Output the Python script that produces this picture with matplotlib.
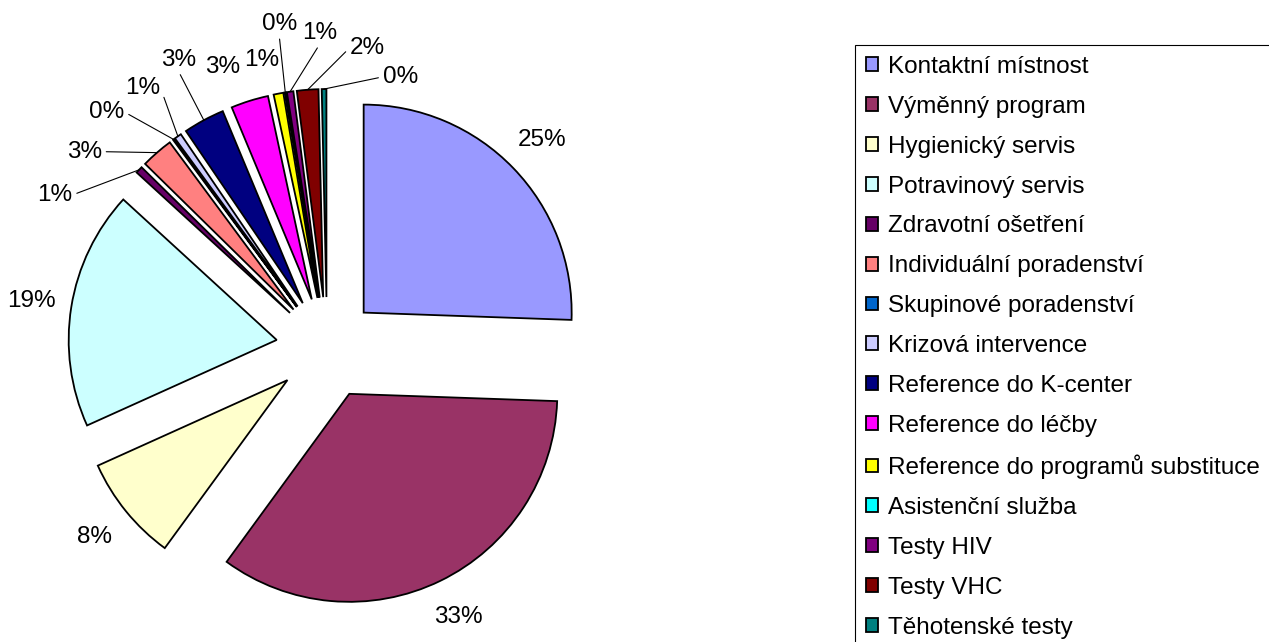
import numpy as np
import matplotlib
matplotlib.use('Agg')
import matplotlib.pyplot as plt

# Data (in %)
kategorie = ['Kontaktní místnost', 'Výměnný program', 'Hygienický servis',
             'Potravinový servis', 'Zdravotní ošetření', 'Individuální poradenství',
             'Skupinové poradenství', 'Krizová intervence', 'Reference do K-center',
             'Reference do léčby', 'Reference do programů substituce',
             'Asistenční služba', 'Testy HIV', 'Testy VHC', 'Těhotenské testy']
hodnoty = [25.5, 34.4, 8.2, 18.5, 0.55, 2.5, 0.1, 0.55, 3.2, 2.9, 0.75, 0.1, 0.5, 1.66, 0.36]
popisky = ['25%', '33%', '8%', '19%', '1%', '3%', '0%', '1%', '3%', '3%', '1%', '0%', '1%', '2%', '0%']
barvy = ['#9999FF', '#993366', '#FFFFCC', '#CCFFFF', '#660066', '#FF8080', '#0066CC',
         '#CCCCFF', '#000080', '#FF00FF', '#FFFF00', '#00FFFF', '#800080', '#800000', '#008080']

plt.rcParams['font.family'] = ['Liberation Sans', 'DejaVu Sans']
velikost = 17.5

fig = plt.figure(figsize=(12.69, 6.42), dpi=100)
ax = fig.add_axes([0, 0, 1, 1])

wedges, _ = ax.pie(hodnoty, colors=barvy, explode=[0.245] * len(hodnoty),
                   startangle=90, counterclock=False,
                   wedgeprops=dict(edgecolor='black', linewidth=1.3))

# stred kolace na pixelu (327, 348), polomer 208 px
ax.set_xlim(-327 / 208, (1269 - 327) / 208)
ax.set_ylim(-(642 - 348) / 208, 348 / 208)
ax.set_aspect('equal')

# pozice popisku malych vysečí (uhel, vzdalenost) a misto napojeni vodici cary
male = {4: (150.6, 1.50, (1, 0.5)), 5: (141, 1.50, (1, 0.5)), 6: (133, 1.55, (1, 0.5)),
        7: (125.3, 1.53, (1, 0.5)), 8: (117.3, 1.56, (0.5, 0)), 9: (110.3, 1.44, None),
        10: (102.7, 1.42, None), 11: (98.4, 1.575, (0.5, 0)), 12: (91.3, 1.515, (0.5, 0)),
        13: (82.4, 1.455, (0, 0.5)), 14: (74.9, 1.35, (0, 0.5))}

for i, (w, txt) in enumerate(zip(wedges, popisky)):
    mid = np.deg2rad((w.theta1 + w.theta2) / 2)
    cx, cy = w.center
    if i not in male:
        ax.text(1.44 * np.cos(mid), 1.44 * np.sin(mid), txt, ha='center', va='center',
                fontsize=velikost)
        continue
    ang, dist, rel = male[i]
    tx, ty = dist * np.cos(np.deg2rad(ang)), dist * np.sin(np.deg2rad(ang))
    if rel is None:
        ax.text(tx, ty, txt, ha='center', va='center', fontsize=velikost)
    else:
        bod = (cx + w.r * np.cos(mid), cy + w.r * np.sin(mid))
        ax.annotate(txt, xy=bod, xytext=(tx, ty), ha='center', va='center',
                    fontsize=velikost,
                    arrowprops=dict(arrowstyle='-', color='black', lw=0.8,
                                    shrinkA=1, shrinkB=0, relpos=rel))

leg = fig.legend(wedges, kategorie, loc='upper left',
                 bbox_to_anchor=(855 / 1269, 1 - 45 / 642), fontsize=velikost,
                 frameon=True, fancybox=False, edgecolor='black', framealpha=1,
                 borderaxespad=0, borderpad=0.45, handlelength=0.5, handleheight=0.5,
                 handletextpad=0.4, labelspacing=0.735)
leg.get_frame().set_linewidth(0.8)

fig.savefig('out.png', dpi=100)
